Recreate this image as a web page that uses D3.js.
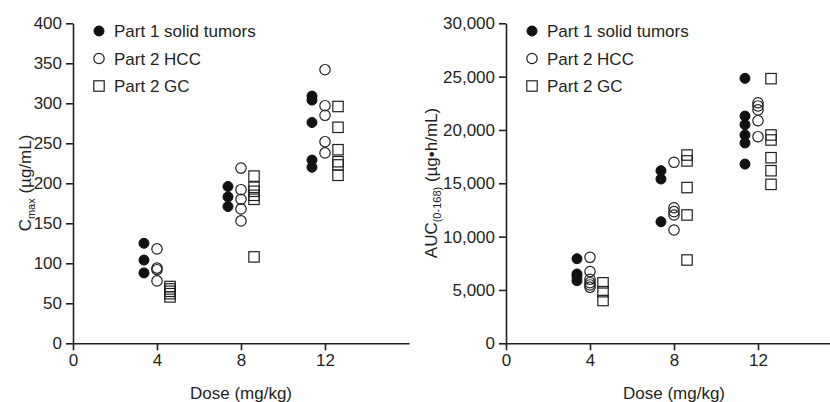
<!DOCTYPE html>
<html>
<head>
<meta charset="utf-8">
<script src="https://cdn.jsdelivr.net/npm/d3@7"></script>
<style>
  body { margin: 0; background: #fff; }
  svg { display: block; font-family: "Liberation Sans", Arial, sans-serif; }
  .axis path, .axis line { stroke: #231f20; stroke-width: 1.6; }
  .axis text { font-size: 17px; fill: #231f20; }
  .lbl { font-size: 17px; fill: #231f20; }
</style>
</head>
<body>
<div class="chart"></div>
<script>
// dose groups (mg/kg) and tick values
var doses = [4, 8, 12];
var xTicks = [0, 4, 8, 12];
var cmaxTicks = [0, 50, 100, 150, 200, 250, 300, 350, 400];
var aucTicks = [0, 5000, 10000, 15000, 20000, 25000, 30000];

var seriesNames = ["Part 1 solid tumors", "Part 2 HCC", "Part 2 GC"];

// Cmax (µg/mL), one list per dose group
var cmaxSolid = [[125, 104, 88], [196, 183, 171], [309, 304, 276, 229, 220]];
var cmaxHcc = [[118, 94, 92, 78], [219, 192, 180, 168, 153], [342, 297, 285, 252, 238]];
var cmaxGc = [[71, 68, 65, 62, 58], [209, 195, 190, 185, 180, 108], [296, 270, 242, 227, 223, 210]];

// AUC(0-168) (µg•h/mL), one list per dose group
var aucSolid = [[7930, 6500, 6250, 5870], [16180, 15400, 11400], [24840, 21300, 20500, 19530, 18780, 16800]];
var aucHcc = [[8060, 6720, 6000, 5680, 5470, 5250], [16970, 12710, 12340, 12030, 10620], [22550, 22250, 21880, 20870, 19370]];
var aucGc = [[5670, 4840, 4010], [17650, 17100, 14600, 12030, 7810], [24810, 19530, 19060, 17400, 16180, 14900]];

var svgWidth = 830, svgHeight = 402;
var svg = d3.select(".chart").append("svg")
  .attr("width", svgWidth)
  .attr("height", svgHeight);

// series horizontal jitter around each dose, in dose units
var shift = [-0.62, 0, 0.62];

function flatten(groups) {
  var out = [];
  groups.forEach(function(vals, i) {
    vals.forEach(function(v) { out.push({ dose: doses[i], value: v }); });
  });
  return out;
}

function drawMarker(g, kind, x, y) {
  if (kind === 0) {
    g.append("circle").attr("cx", x).attr("cy", y).attr("r", 5)
      .attr("fill", "#111").attr("stroke", "#111").attr("stroke-width", 1);
  } else if (kind === 1) {
    g.append("circle").attr("cx", x).attr("cy", y).attr("r", 5.2)
      .attr("fill", "none").attr("stroke", "#231f20").attr("stroke-width", 1.2);
  } else {
    g.append("rect").attr("x", x - 5.2).attr("y", y - 5.2)
      .attr("width", 10.4).attr("height", 10.4)
      .attr("fill", "none").attr("stroke", "#231f20").attr("stroke-width", 1.2);
  }
}

function panel(opts) {
  var x = d3.scaleLinear().domain([0, 16]).range([opts.left, opts.left + 336]);
  var y = d3.scaleLinear().domain(opts.domain).range([343.3, 23.3]);

  var g = svg.append("g");

  g.append("g")
    .attr("class", "axis")
    .attr("transform", "translate(0,343.3)")
    .call(d3.axisBottom(x).tickValues(xTicks).tickSize(7).tickPadding(4).tickSizeOuter(0));

  g.append("g")
    .attr("class", "axis")
    .attr("transform", "translate(" + opts.left + ",0)")
    .call(d3.axisLeft(y).tickValues(opts.ticks).tickFormat(opts.format)
      .tickSize(7).tickPadding(4).tickSizeOuter(0));

  // points
  opts.series.forEach(function(groups, k) {
    flatten(groups).forEach(function(d) {
      drawMarker(g, k, x(d.dose + shift[k]), y(d.value));
    });
  });

  // legend
  var legY = [31, 58.5, 86];
  seriesNames.forEach(function(name, k) {
    drawMarker(g, k, opts.left + 26, legY[k]);
    g.append("text").attr("class", "lbl")
      .attr("x", opts.left + 41).attr("y", legY[k])
      .attr("dy", "0.36em")
      .text(name);
  });

  // x axis title
  g.append("text").attr("class", "lbl")
    .attr("x", x(8)).attr("y", 399)
    .attr("text-anchor", "middle")
    .text("Dose (mg/kg)");

  // y axis title
  var t = g.append("text").attr("class", "lbl")
    .attr("transform", "translate(" + opts.titleX + ",183) rotate(-90)")
    .attr("text-anchor", "middle");
  t.append("tspan").text(opts.title[0]);
  t.append("tspan").attr("dy", 4).style("font-size", "11px").text(opts.title[1]);
  t.append("tspan").attr("dy", -4).text(opts.title[2]);
}

panel({
  left: 73,
  domain: [0, 400],
  ticks: cmaxTicks,
  format: d3.format("d"),
  series: [cmaxSolid, cmaxHcc, cmaxGc],
  title: ["C", "max", " (µg/mL)"],
  titleX: 31
});

panel({
  left: 506,
  domain: [0, 30000],
  ticks: aucTicks,
  format: d3.format(","),
  series: [aucSolid, aucHcc, aucGc],
  title: ["AUC", "(0-168)", " (µg•h/mL)"],
  titleX: 437
});
</script>
</body>
</html>
